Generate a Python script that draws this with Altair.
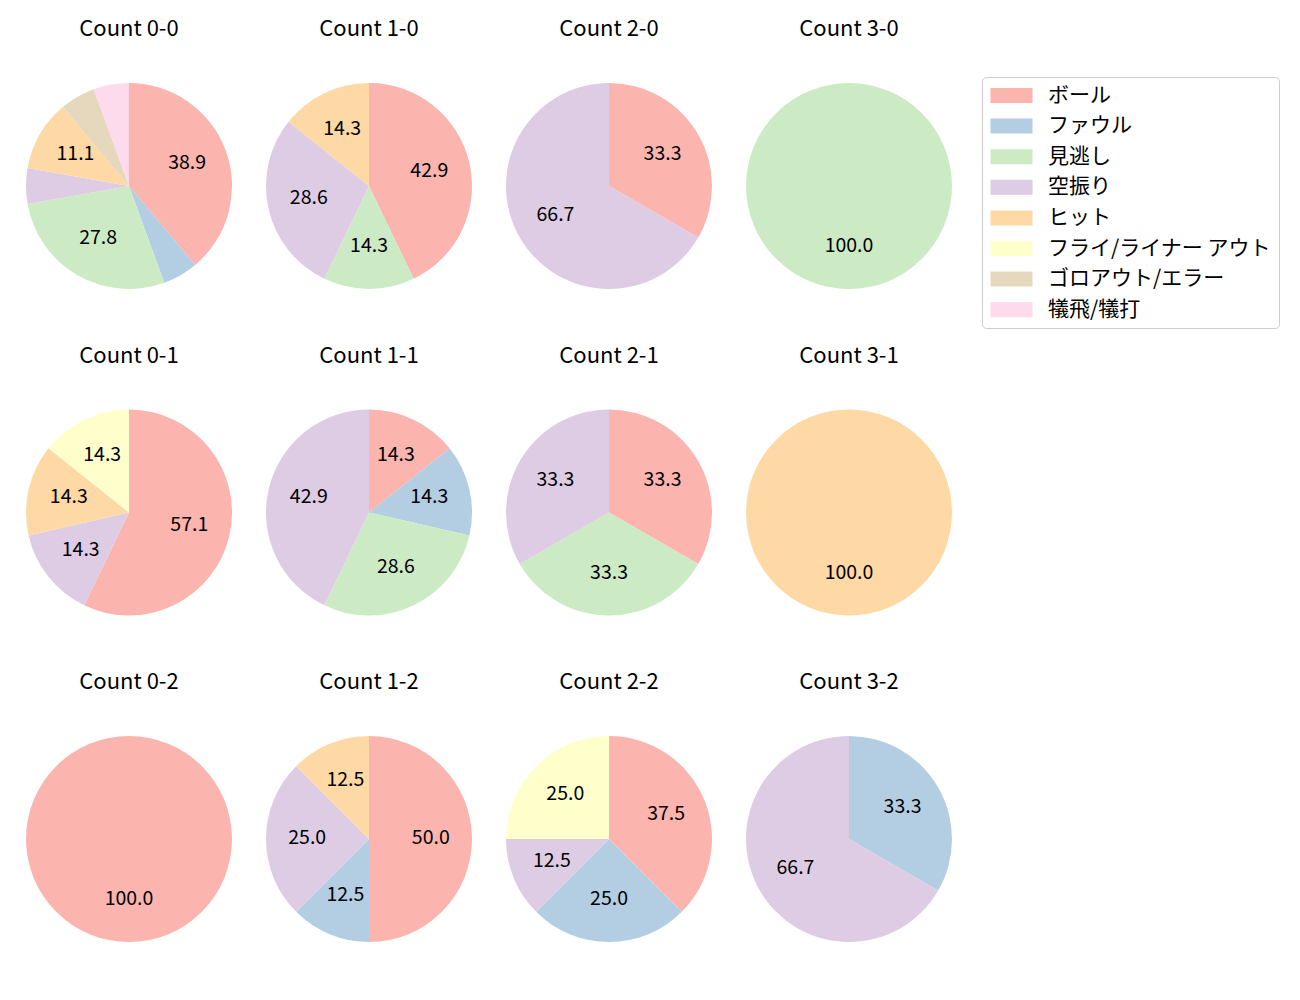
import altair as alt
import pandas as pd

categories = ["ボール", "ファウル", "見逃し", "空振り", "ヒット",
              "フライ/ライナー アウト", "ゴロアウト/エラー", "犠飛/犠打"]
colors = ["#fbb4ae", "#b3cde3", "#ccebc5", "#decbe4", "#fed9a6",
          "#ffffcc", "#e5d8bd", "#fddaec"]

panels = ["0-0", "1-0", "2-0", "3-0",
          "0-1", "1-1", "2-1", "3-1",
          "0-2", "1-2", "2-2", "3-2"]

counts = {
    "0-0": [7, 1, 5, 1, 2, 0, 1, 1],
    "1-0": [3, 0, 1, 2, 1, 0, 0, 0],
    "2-0": [1, 0, 0, 2, 0, 0, 0, 0],
    "3-0": [0, 0, 1, 0, 0, 0, 0, 0],
    "0-1": [4, 0, 0, 1, 1, 1, 0, 0],
    "1-1": [1, 1, 2, 3, 0, 0, 0, 0],
    "2-1": [1, 0, 1, 1, 0, 0, 0, 0],
    "3-1": [0, 0, 0, 0, 1, 0, 0, 0],
    "0-2": [1, 0, 0, 0, 0, 0, 0, 0],
    "1-2": [4, 1, 0, 2, 1, 0, 0, 0],
    "2-2": [3, 2, 0, 1, 0, 2, 0, 0],
    "3-2": [0, 1, 0, 2, 0, 0, 0, 0],
}

rows = []
for p in panels:
    total = sum(counts[p])
    for i, (c, n) in enumerate(zip(categories, counts[p])):
        if n == 0:
            continue
        pct = 100.0 * n / total
        rows.append({
            "panel": "Count " + p,
            "cat": c,
            "idx": i,
            "count": n,
            "label": f"{pct:.1f}" if pct >= 10 else "",
        })
df = pd.DataFrame(rows)

FONT = "Noto Sans CJK JP"
R = 103

base = alt.Chart().encode(
    theta=alt.Theta("count:Q", stack=True),
    order=alt.Order("idx:Q", sort="ascending"),
)

arcs = base.mark_arc(outerRadius=R).encode(
    color=alt.Color(
        "cat:N",
        scale=alt.Scale(domain=categories, range=colors),
        sort=categories,
        legend=alt.Legend(
            title=None,
            orient="none",
            legendX=956,
            legendY=-6,
            symbolType="M-1,-0.75H3.2V0.75H-1Z",
            symbolSize=400,
            symbolStrokeWidth=0,
            labelFontSize=21,
            labelFont=FONT,
            labelColor="black",
            labelOffset=37,
            rowPadding=8.6,
            padding=8,
            strokeColor="#cccccc",
            cornerRadius=4,
            fillColor="white",
            labelLimit=400,
        ),
    )
)

texts = base.mark_text(radius=0.6 * R, fontSize=19.5, font=FONT, color="black", dy=-1.5).encode(
    detail="cat:N",
    text="label:N",
)

chart = alt.layer(arcs, texts, data=df).properties(
    width=2 * R, height=2 * R
).facet(
    facet=alt.Facet(
        "panel:N",
        sort=["Count " + p for p in panels],
        header=alt.Header(
            title=None,
            labelFontSize=22,
            labelFont=FONT,
            labelColor="black",
            labelPadding=42,
        ),
    ),
    columns=4,
    spacing={"row": 55.5, "column": 34},
).configure_view(stroke=None).properties(
    padding={"left": 26, "top": 18, "right": 5, "bottom": 5}
)

chart.save("out.html", embed_options={"renderer": "svg", "actions": False})
